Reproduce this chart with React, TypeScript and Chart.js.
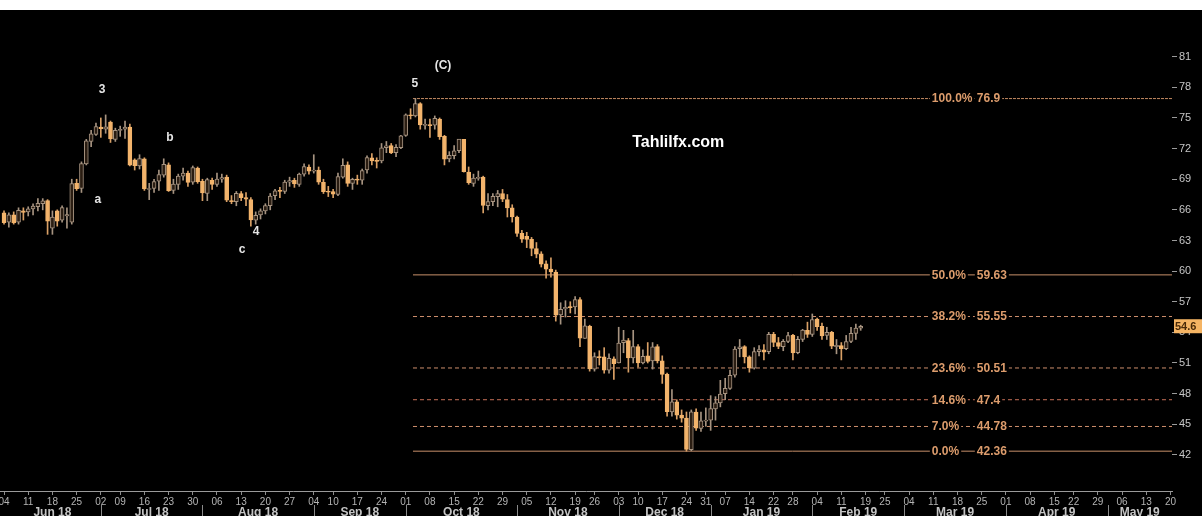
import React, { useEffect, useRef } from "react";
import { Chart, registerables } from "chart.js";

Chart.register(...registerables);

// ---- Daily candles, trading-day index 0 = Mon 4 Jun 2018 ... 177 = Fri 15 Feb 2019 ----
const OPEN = [
  65.7, 64.8, 65.5, 64.8, 65.9, 65.8, 66.1, 66.3, 66.6, 66.9,
  64.2, 65.9, 65.0, 65.4, 64.8, 68.6, 68.1, 70.5, 72.7, 73.4,
  74.1, 73.9, 74.6, 72.9, 73.8, 73.9, 74.1, 70.9, 70.3, 71.0,
  68.0, 68.1, 68.8, 69.4, 70.4, 67.9, 68.5, 69.3, 69.6, 68.7,
  70.1, 68.8, 67.6, 68.9, 68.5, 69.0, 69.2, 66.9, 66.8, 67.6,
  67.2, 67.0, 65.0, 65.5, 65.9, 66.4, 67.4, 67.9, 67.8, 68.7,
  68.9, 68.5, 69.5, 70.2, 69.8, 69.9, 68.7, 67.8, 67.8, 67.5,
  69.2, 70.4, 68.6, 69.0, 68.9, 69.9, 71.1, 70.8, 70.8, 72.1,
  72.3, 71.6, 72.1, 73.3, 75.3, 75.2, 76.4, 74.3, 74.3, 74.3,
  74.9, 73.2, 71.0, 71.3, 71.8, 72.9, 69.7, 68.6, 69.1, 69.2,
  66.4, 66.8, 67.3, 67.6, 67.0, 66.2, 65.3, 63.7, 63.4, 63.1,
  62.2, 61.7, 60.7, 60.2, 59.9, 55.7, 56.3, 56.5, 56.5, 57.2,
  53.4, 54.6, 50.4, 51.6, 51.6, 50.3, 51.4, 51.0, 53.0, 53.2,
  51.5, 52.6, 51.0, 51.7, 51.2, 52.6, 51.2, 49.9, 46.2, 47.2,
  45.9, 45.6, 42.5, 46.2, 44.6, 45.3, 45.4, 46.5, 47.1, 48.0,
  48.5, 49.8, 52.4, 52.6, 51.6, 50.5, 52.1, 52.3, 52.1, 53.8,
  53.0, 52.6, 53.1, 53.7, 52.0, 53.3, 54.2, 53.8, 55.3, 54.6,
  53.7, 54.0, 52.6, 52.7, 52.4, 53.1, 53.9, 54.4,
];
const HIGH = [
  65.9, 65.7, 65.8, 66.2, 66.2, 66.3, 66.6, 67.1, 67.1, 67.0,
  65.9, 66.0, 66.4, 66.2, 69.0, 69.0, 70.7, 72.9, 73.8, 74.5,
  75.0, 75.3, 74.7, 74.0, 74.2, 74.7, 74.4, 71.0, 71.4, 71.1,
  68.6, 69.0, 69.9, 71.0, 70.6, 69.0, 69.5, 70.1, 69.8, 70.3,
  70.2, 69.0, 69.1, 69.1, 69.6, 69.5, 69.4, 67.4, 67.8, 67.8,
  67.7, 67.2, 65.8, 66.1, 66.6, 67.6, 68.0, 68.2, 68.9, 69.2,
  69.1, 69.6, 70.5, 70.4, 71.4, 70.2, 69.0, 68.3, 68.0, 69.6,
  71.0, 70.7, 69.1, 69.4, 70.0, 71.3, 71.5, 71.1, 72.5, 72.7,
  72.5, 72.4, 73.3, 75.4, 75.9, 76.9, 76.5, 74.9, 74.9, 75.2,
  75.0, 73.3, 71.7, 72.3, 72.9, 72.9, 70.2, 69.5, 69.8, 69.3,
  67.6, 67.6, 67.9, 68.0, 67.5, 66.5, 65.4, 64.0, 63.8, 63.3,
  62.8, 61.9, 61.0, 61.3, 60.1, 56.9, 57.1, 57.0, 57.5, 57.4,
  55.3, 54.7, 52.0, 52.2, 52.5, 51.9, 51.6, 54.5, 54.2, 53.4,
  54.2, 52.8, 52.3, 53.0, 53.0, 52.8, 51.7, 50.0, 48.4, 47.4,
  46.4, 46.2, 46.4, 46.5, 46.2, 46.6, 47.8, 47.7, 49.3, 49.5,
  50.3, 52.6, 53.3, 52.7, 51.7, 52.5, 52.7, 52.8, 54.0, 54.0,
  53.5, 53.3, 54.0, 53.8, 53.6, 54.3, 55.0, 55.8, 55.4, 54.9,
  54.5, 54.1, 53.3, 53.0, 53.7, 54.5, 54.8, 54.7,
];
const LOW = [
  64.6, 64.3, 64.6, 64.6, 65.0, 65.4, 65.5, 65.9, 66.0, 63.6,
  63.6, 64.4, 64.8, 64.2, 64.6, 67.9, 67.7, 70.4, 72.2, 73.3,
  73.1, 73.5, 72.6, 72.7, 73.2, 73.0, 70.3, 69.9, 70.0, 67.9,
  67.0, 67.7, 67.9, 69.2, 67.8, 67.6, 68.0, 68.9, 68.3, 68.5,
  68.6, 66.9, 66.9, 68.0, 68.3, 68.7, 66.8, 66.6, 66.4, 66.9,
  66.4, 64.4, 64.6, 65.1, 65.6, 66.0, 67.0, 67.2, 67.6, 68.3,
  68.2, 68.3, 69.3, 69.5, 69.6, 68.5, 67.6, 67.3, 67.2, 67.4,
  69.1, 68.3, 68.0, 68.5, 68.5, 69.6, 70.4, 70.1, 70.6, 71.6,
  71.5, 71.2, 72.0, 73.2, 74.9, 75.1, 73.9, 73.9, 73.1, 73.9,
  72.9, 70.4, 70.7, 71.0, 71.6, 69.7, 68.5, 68.3, 68.9, 65.7,
  66.0, 66.4, 66.3, 66.8, 65.3, 64.8, 63.4, 62.8, 62.3, 61.5,
  61.3, 60.4, 59.3, 59.4, 55.1, 54.8, 55.5, 55.9, 55.8, 52.6,
  53.4, 50.2, 50.2, 50.8, 50.0, 50.0, 49.4, 51.0, 52.0, 50.1,
  51.0, 50.6, 50.9, 51.0, 50.4, 51.0, 49.0, 45.8, 45.8, 45.5,
  45.2, 42.36, 42.4, 44.4, 44.3, 44.8, 44.4, 45.4, 46.7, 47.4,
  48.4, 49.6, 51.6, 51.0, 50.1, 50.4, 51.7, 51.3, 51.9, 52.6,
  52.4, 52.2, 53.0, 51.3, 51.9, 53.1, 53.5, 53.6, 54.2, 53.3,
  53.3, 52.4, 51.9, 51.3, 52.3, 53.0, 53.3, 54.2,
];
const CLOSE = [
  64.75, 65.52, 64.73, 65.95, 65.74, 66.1, 66.36, 66.64, 66.89, 64.9,
  65.3, 64.9, 66.22, 65.54, 68.58, 68.08, 70.53, 72.76, 73.45, 74.15,
  73.94, 74.14, 72.94, 73.8, 73.85, 74.11, 70.38, 70.33, 71.01, 68.06,
  68.08, 68.76, 69.46, 70.46, 67.89, 68.52, 69.3, 69.61, 68.69, 70.13,
  68.76, 67.66, 68.96, 68.49, 69.01, 69.17, 66.94, 66.81, 67.63, 67.2,
  67.04, 65.01, 65.46, 65.91, 66.43, 67.35, 67.86, 67.83, 68.72, 68.87,
  68.53, 69.51, 70.25, 69.8, 69.87, 68.72, 67.77, 67.75, 67.54, 69.25,
  70.37, 68.59, 68.99, 68.91, 69.85, 71.12, 70.8, 70.78, 72.08, 72.28,
  71.57, 72.12, 73.25, 75.3, 75.23, 76.41, 74.33, 74.34, 74.29, 74.96,
  73.17, 70.97, 71.34, 71.78, 72.92, 69.75, 68.65, 69.12, 69.17, 66.43,
  66.82, 67.33, 67.59, 67.04, 66.18, 65.31, 63.69, 63.14, 63.1, 62.21,
  61.67, 60.67, 60.19, 59.93, 55.69, 56.25, 56.46, 56.46, 57.2, 53.43,
  54.63, 50.42, 51.63, 51.56, 50.29, 51.45, 50.93, 52.95, 53.25, 51.49,
  52.61, 51.0, 51.65, 51.15, 52.58, 51.2, 49.88, 46.24, 47.2, 45.88,
  45.59, 42.53, 46.22, 44.61, 45.33, 45.41, 46.54, 47.09, 47.96, 48.52,
  49.78, 52.36, 52.59, 51.59, 50.51, 52.11, 52.31, 52.07, 53.8, 53.01,
  52.62, 53.13, 53.69, 51.99, 53.31, 54.23, 53.79, 55.26, 54.56, 53.66,
  54.01, 52.64, 52.72, 52.41, 53.1, 53.9, 54.41, 54.6,
];
const LAST_PRICE = 54.6;

// ---- X axis: week-start labels (trading-day index) and months ----
const WEEK_LABELS = [
  "04", "11", "18", "25", "02", "09", "16", "23", "30", "06", "13", "20", "27",
  "04", "10", "17", "24", "01", "08", "15", "22", "29", "05", "12", "19", "26",
  "03", "10", "17", "24", "31", "07", "14", "22", "28", "04", "11", "19", "25",
  "04", "11", "18", "25", "01", "08", "15", "22", "29", "06", "13", "20",
];
const WEEK_INDEX = [
  0, 5, 10, 15, 20, 24, 29, 34, 39, 44, 49, 54, 59,
  64, 68, 73, 78, 83, 88, 93, 98, 103, 108, 113, 118, 122,
  127, 131, 136, 141, 145, 149, 154, 159, 163, 168, 173, 178, 182,
  187, 192, 197, 202, 207, 212, 217, 221, 226, 231, 236, 241,
];
const MONTH_LABELS = ["Jun 18", "Jul 18", "Aug 18", "Sep 18", "Oct 18", "Nov 18", "Dec 18", "Jan 19", "Feb 19", "Mar 19", "Apr 19", "May 19"];
const MONTH_START = [0, 20, 41, 64, 83, 106, 127, 146, 167, 186, 207, 228];

// ---- Y axis ----
const Y_TICKS = [42, 45, 48, 51, 54, 57, 60, 63, 66, 69, 72, 75, 78, 81];

// ---- Fibonacci retracement (from 76.9 high to 42.36 low) ----
const FIB_PCT = ["100.0%", "50.0%", "38.2%", "23.6%", "14.6%", "7.0%", "0.0%"];
const FIB_VALUE = [76.9, 59.63, 55.55, 50.51, 47.4, 44.78, 42.36];
const FIB_TEXT = ["76.9", "59.63", "55.55", "50.51", "47.4", "44.78", "42.36"];
const FIB_START = 84.5;

// ---- Wave annotations (trading-day index, price) ----
const WAVE_TEXT = ["3", "a", "b", "c", "4", "5", "(C)"];
const WAVE_X = [20.25, 19.4, 34.3, 49.2, 52.1, 84.9, 90.7];
const WAVE_Y = [77.74, 66.96, 73.04, 62.07, 63.83, 78.33, 80.09];
const WATERMARK = "Tahlilfx.com";

const X_MIN = -0.83;
const X_MAX = 241.32;
const Y_MIN = 38.46;
const Y_MAX = 85.38;

const UP_FILL = "#2a1d12";
const UP_EDGE = "#a69380";
const DOWN_FILL = "#f3b46c";
const FIB_COLOR = "#dc9c6c";
const FIB_DASH: number[][] = [[3, 1], [], [4, 3], [4, 3], [4, 3], [4, 3], []];
const FIB_LINE_COLOR = ["#c48a62", "#c8906a", "#cf8f6c", "#cf8f6c", "#c67058", "#cf8f6c", "#c8906a"];
const FONT = '"Liberation Sans", Arial, sans-serif';

const zeroPad = (s: any) => {
  s.paddingTop = 0;
  s.paddingBottom = 0;
  s.paddingLeft = 0;
  s.paddingRight = 0;
};

export default function App() {
  const ref = useRef<HTMLCanvasElement | null>(null);

  useEffect(() => {
    const canvas = ref.current;
    if (!canvas) return;

    const up = CLOSE.map((c, i) => c >= OPEN[i]);
    const bodies = OPEN.map((o, i) => {
      let lo = Math.min(o, CLOSE[i]);
      let hi = Math.max(o, CLOSE[i]);
      if (hi - lo < 0.1) {
        const m = (hi + lo) / 2;
        lo = m - 0.05;
        hi = m + 0.05;
      }
      return { x: i, y: [lo, hi] };
    });
    const wicks = OPEN.map((_, i) => ({ x: i, y: [LOW[i], HIGH[i]] }));

    const fibSets = FIB_VALUE.map((v, k) => ({
      type: "line" as const,
      data: [
        { x: FIB_START, y: v },
        { x: X_MAX, y: v },
      ],
      borderColor: FIB_LINE_COLOR[k],
      borderWidth: 1,
      borderDash: FIB_DASH[k],
      pointRadius: 0,
      order: 5,
    }));

    const overlay = {
      id: "overlay",
      afterDatasetsDraw(chart: any) {
        const { ctx, scales } = chart;
        const xs = scales.x;
        const ys = scales.y;
        ctx.save();
        ctx.textBaseline = "middle";
        ctx.font = `bold 12px ${FONT}`;
        ctx.textAlign = "left";
        FIB_VALUE.forEach((v, k) => {
          const py = ys.getPixelForValue(v);
          const put = (t: string, at: number) => {
            const px = xs.getPixelForValue(at);
            const w = ctx.measureText(t).width;
            ctx.fillStyle = "#000";
            ctx.fillRect(px - 2, py - 6, w + 4, 12);
            ctx.fillStyle = FIB_COLOR;
            ctx.fillText(t, px, py + 0.5);
          };
          put(FIB_PCT[k], 191.7);
          put(FIB_TEXT[k], 201.0);
        });
        ctx.textAlign = "center";
        ctx.font = `bold 12px ${FONT}`;
        ctx.fillStyle = "#e4e4e4";
        WAVE_TEXT.forEach((t, k) => {
          ctx.fillText(t, xs.getPixelForValue(WAVE_X[k]), ys.getPixelForValue(WAVE_Y[k]));
        });
        ctx.font = `bold 16px ${FONT}`;
        ctx.fillStyle = "#ffffff";
        ctx.fillText(WATERMARK, xs.getPixelForValue(139.3), ys.getPixelForValue(72.55));
        ctx.restore();
      },
      afterDraw(chart: any) {
        const { ctx, scales, chartArea } = chart;
        const xs = scales.x;
        const ys = scales.y;
        ctx.save();
        ctx.font = `bold 12px ${FONT}`;
        ctx.textAlign = "center";
        ctx.textBaseline = "middle";
        MONTH_LABELS.forEach((m, k) => {
          const s = MONTH_START[k];
          const e = k + 1 < MONTH_START.length ? MONTH_START[k + 1] : X_MAX;
          const cx = xs.getPixelForValue((s + e) / 2);
          ctx.fillStyle = "#c4c4c4";
          ctx.fillText(m, cx, chartArea.bottom + 22);
          if (k > 0) {
            const sx = Math.round(xs.getPixelForValue(s)) + 0.5;
            ctx.strokeStyle = "#8a8a8a";
            ctx.lineWidth = 1;
            ctx.beginPath();
            ctx.moveTo(sx, chartArea.bottom + 14);
            ctx.lineTo(sx, chartArea.bottom + 26);
            ctx.stroke();
          }
        });
        const py = ys.getPixelForValue(LAST_PRICE);
        const left = chartArea.right + 2;
        ctx.fillStyle = "#f5b463";
        ctx.fillRect(left, py - 7, chart.width - left, 14);
        ctx.fillStyle = "#4a2a08";
        ctx.font = `bold 11px ${FONT}`;
        ctx.textAlign = "left";
        ctx.fillText(LAST_PRICE.toFixed(1), left + 1, py + 0.5);
        ctx.restore();
      },
    };

    const chart = new Chart(canvas, {
      type: "bar",
      data: {
        datasets: [
          {
            type: "bar",
            data: bodies as any,
            backgroundColor: up.map((u) => (u ? UP_FILL : DOWN_FILL)),
            borderColor: up.map((u) => (u ? UP_EDGE : DOWN_FILL)),
            borderWidth: 1,
            borderSkipped: false,
            barThickness: 4,
            grouped: false,
            order: 0,
          } as any,
          {
            type: "bar",
            data: wicks as any,
            backgroundColor: up.map((u) => (u ? UP_EDGE : "#d9a066")),
            borderWidth: 0,
            barThickness: 1,
            grouped: false,
            order: 1,
          } as any,
          ...fibSets,
        ],
      },
      options: {
        animation: false,
        responsive: false,
        maintainAspectRatio: false,
        events: [],
        layout: { autoPadding: false, padding: { top: 2, left: 0, right: 0, bottom: 0 } } as any,
        plugins: { legend: { display: false }, tooltip: { enabled: false } },
        scales: {
          x: {
            type: "linear",
            min: X_MIN,
            max: X_MAX,
            offset: false,
            afterFit: (s: any) => {
              s.height = 25;
              zeroPad(s);
            },
            afterBuildTicks: (s: any) => {
              s.ticks = WEEK_INDEX.map((v) => ({ value: v }));
            },
            grid: { display: true, drawOnChartArea: false, offset: false, tickLength: 4, color: "#8c8c8c" },
            border: { display: true, color: "#9a9a9a", width: 1 },
            ticks: {
              autoSkip: false,
              maxRotation: 0,
              minRotation: 0,
              padding: 1,
              color: "#b4b4b4",
              font: { family: FONT, size: 10 },
              callback: (_v: any, i: number) => WEEK_LABELS[i],
            },
          },
          y: {
            type: "linear",
            position: "right",
            min: Y_MIN,
            max: Y_MAX,
            beginAtZero: false,
            afterFit: (s: any) => {
              s.width = 30;
              zeroPad(s);
            },
            afterBuildTicks: (s: any) => {
              s.ticks = Y_TICKS.map((v) => ({ value: v }));
            },
            grid: { display: true, drawOnChartArea: false, tickLength: 5, color: "#9a9a9a" },
            border: { display: false },
            ticks: {
              padding: 2,
              color: "#c6c6c6",
              font: { family: FONT, size: 11 },
              callback: (v: any) => String(v),
            },
          },
        },
      } as any,
      plugins: [overlay],
    });

    return () => chart.destroy();
  }, []);

  return (
    <div style={{ position: "absolute", left: 0, top: 0, width: 1202, height: 516, background: "#ffffff", overflow: "hidden" }}>
      <canvas
        ref={ref}
        width={1202}
        height={506}
        style={{ position: "absolute", left: 0, top: 10, width: 1202, height: 506, background: "#000000", display: "block" }}
      />
    </div>
  );
}
